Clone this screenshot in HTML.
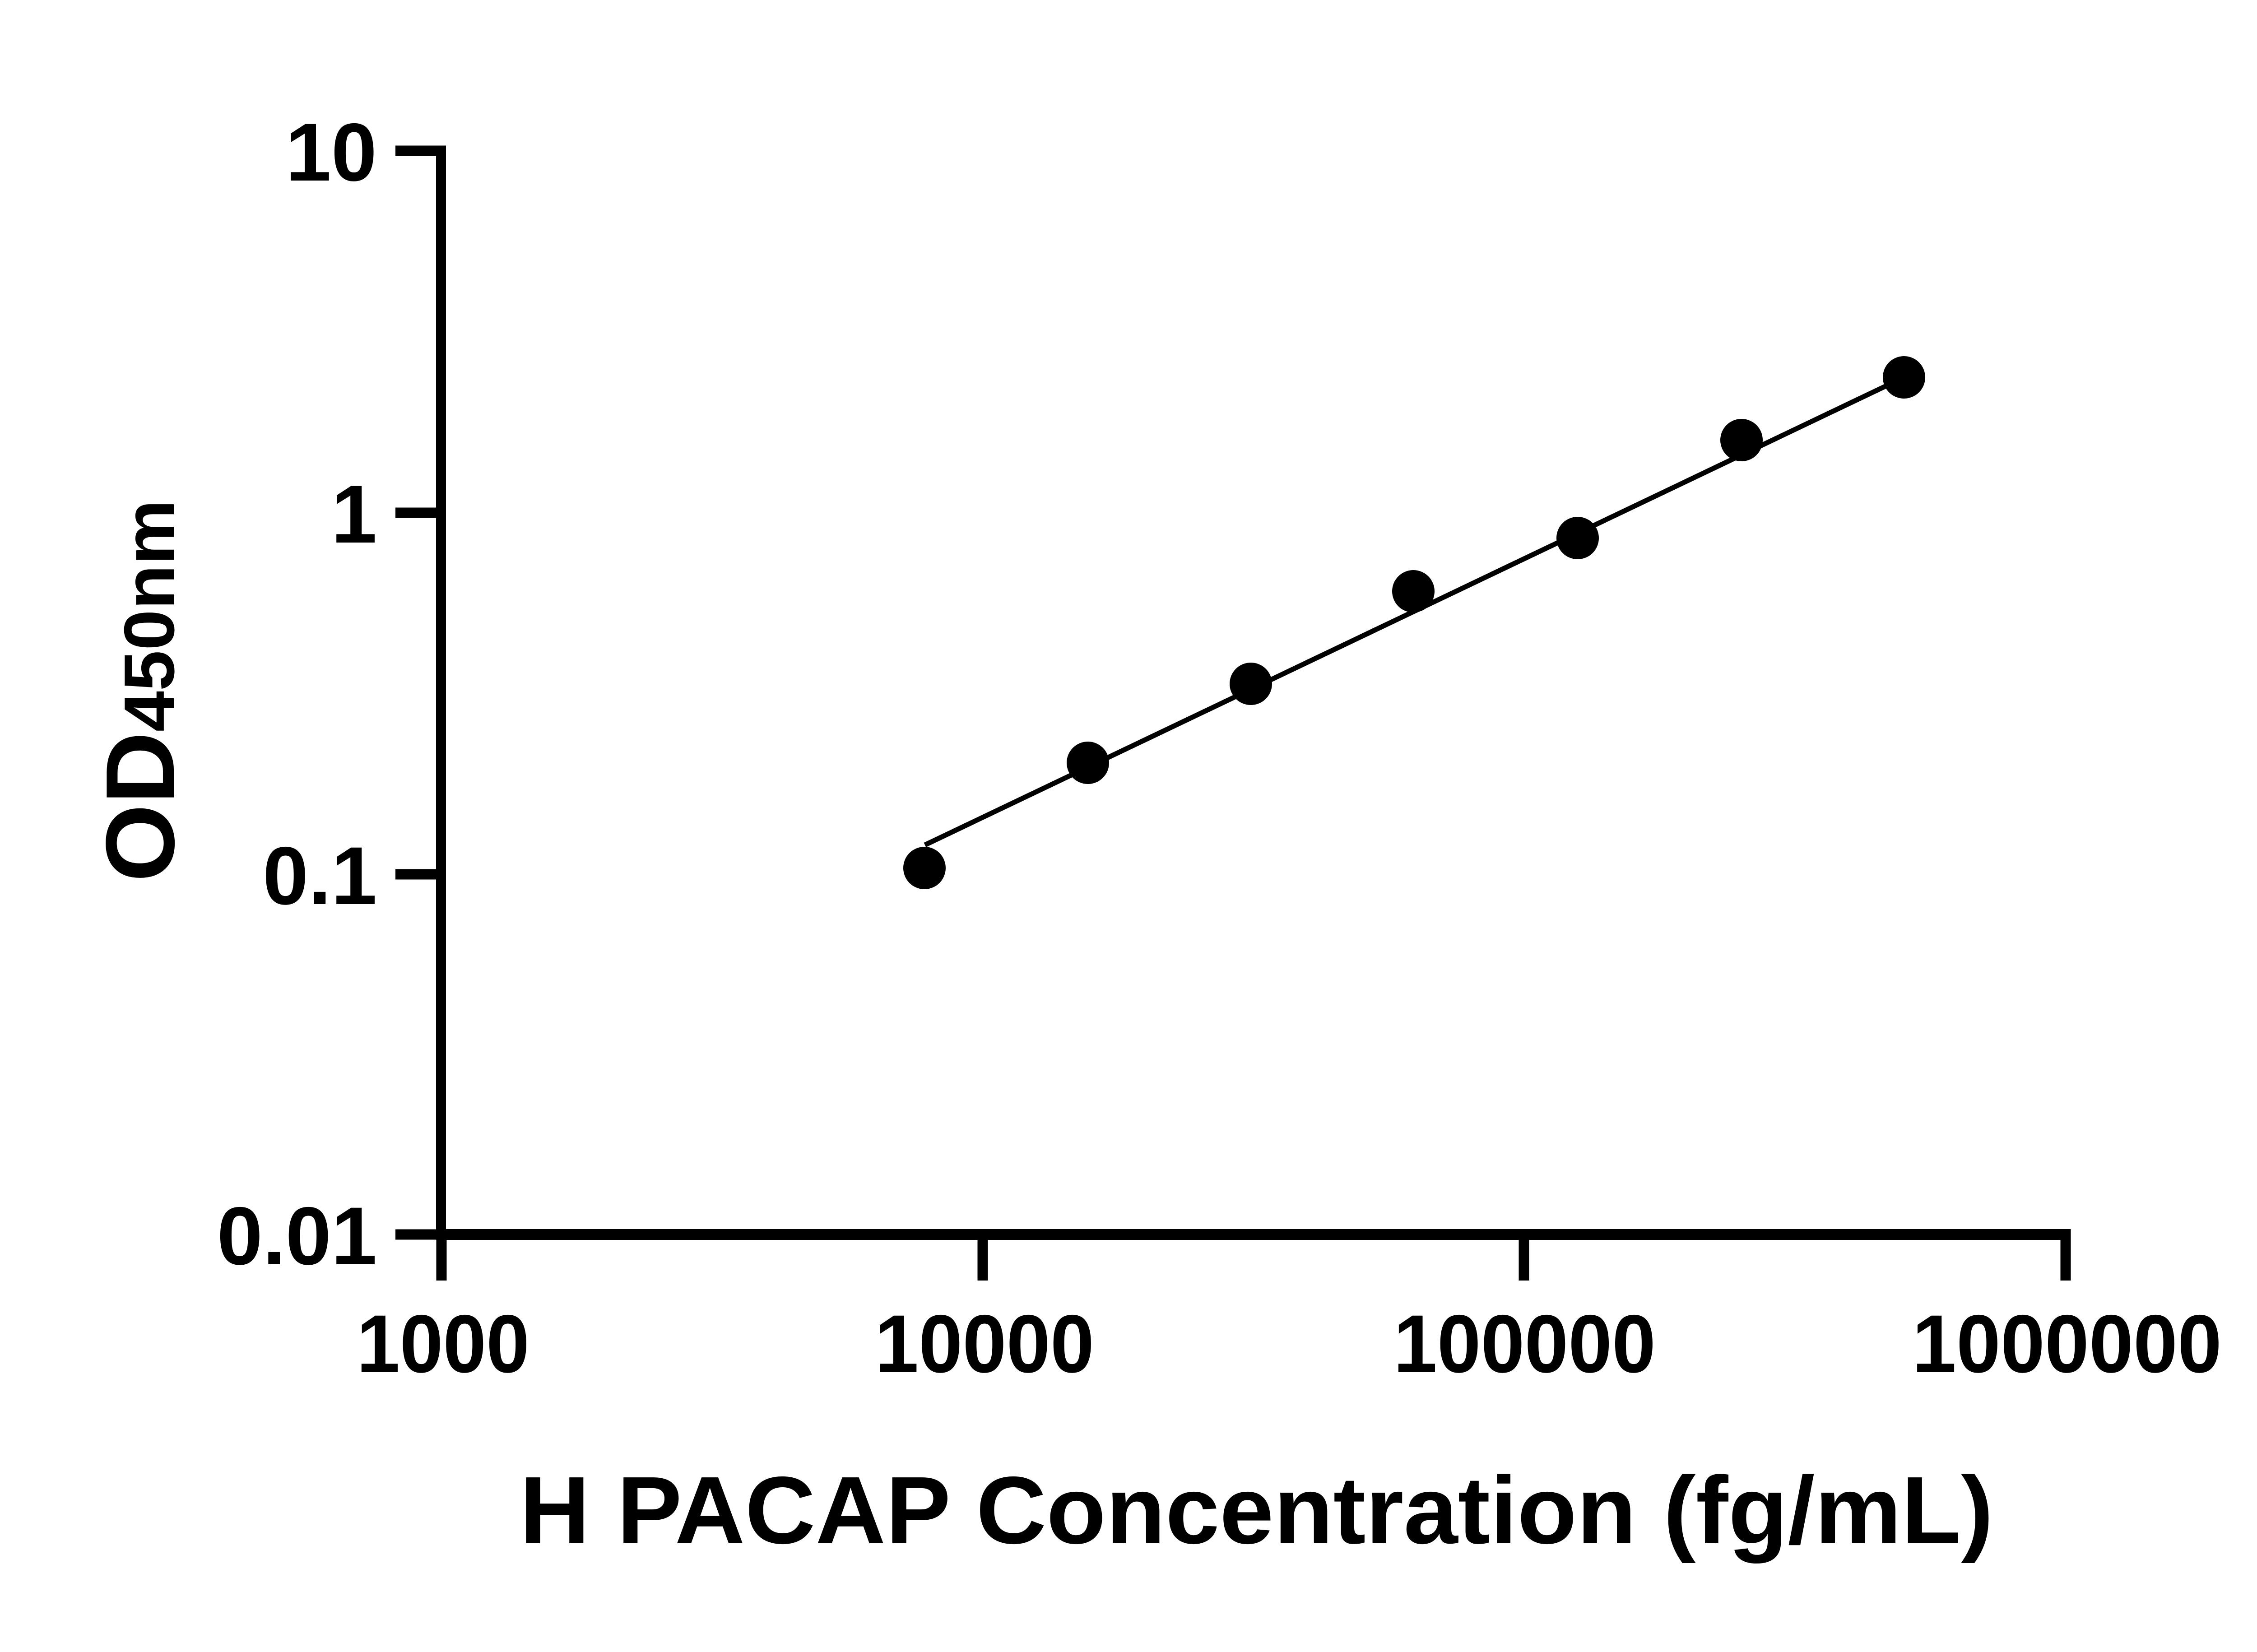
<!DOCTYPE html>
<html><head><meta charset="utf-8"><style>html,body{margin:0;padding:0;background:#fff}svg{display:block}</style></head>
<body>
<svg width="5130" height="3660" viewBox="0 0 5130 3660" xmlns="http://www.w3.org/2000/svg">
<rect width="5130" height="3660" fill="#fff"/>
<g stroke="#000" fill="none">
<line x1="977" y1="323" x2="977" y2="2747" stroke-width="22"/>
<line x1="966" y1="2735" x2="4587" y2="2735" stroke-width="24"/>
<g stroke-width="23">
<line x1="876" y1="334" x2="988" y2="334"/>
<line x1="876" y1="1136" x2="977" y2="1136"/>
<line x1="876" y1="1937" x2="977" y2="1937"/>
<line x1="876" y1="2735" x2="977" y2="2735"/>
<line x1="978" y1="2735" x2="978" y2="2837"/>
<line x1="2177" y1="2735" x2="2177" y2="2837"/>
<line x1="3376" y1="2735" x2="3376" y2="2837"/>
<line x1="4576" y1="2723" x2="4576" y2="2837"/>
</g>
<line x1="2049" y1="1872" x2="4218" y2="836" stroke-width="11"/>
</g>
<g fill="#000">
<circle cx="2048" cy="1923" r="47"/>
<circle cx="2410" cy="1690" r="47"/>
<circle cx="2771" cy="1515" r="47"/>
<circle cx="3131" cy="1310" r="47"/>
<circle cx="3495" cy="1192" r="47"/>
<circle cx="3858" cy="975" r="47"/>
<circle cx="4218" cy="836" r="47"/>
</g>
<g font-family="Liberation Sans, Arial, sans-serif" font-weight="bold" fill="#000" font-size="182">
<text x="835" y="400" text-anchor="end">10</text>
<text x="835" y="1202" text-anchor="end">1</text>
<text x="835" y="2003" text-anchor="end">0.1</text>
<text x="835" y="2801" text-anchor="end">0.01</text>
<text x="790" y="3040" textLength="383" lengthAdjust="spacingAndGlyphs">1000</text>
<text x="1938" y="3040" textLength="486" lengthAdjust="spacingAndGlyphs">10000</text>
<text x="3087" y="3040" textLength="581" lengthAdjust="spacingAndGlyphs">100000</text>
<text x="4236" y="3040" textLength="686" lengthAdjust="spacingAndGlyphs">1000000</text>
<text x="1151" y="3419" font-size="212" textLength="3265" lengthAdjust="spacingAndGlyphs">H PACAP Concentration (fg/mL)</text>
<text transform="translate(385,1954) rotate(-90)" font-size="216" textLength="847" lengthAdjust="spacingAndGlyphs">OD<tspan font-size="158">450nm</tspan></text>
</g>
</svg>
</body></html>
